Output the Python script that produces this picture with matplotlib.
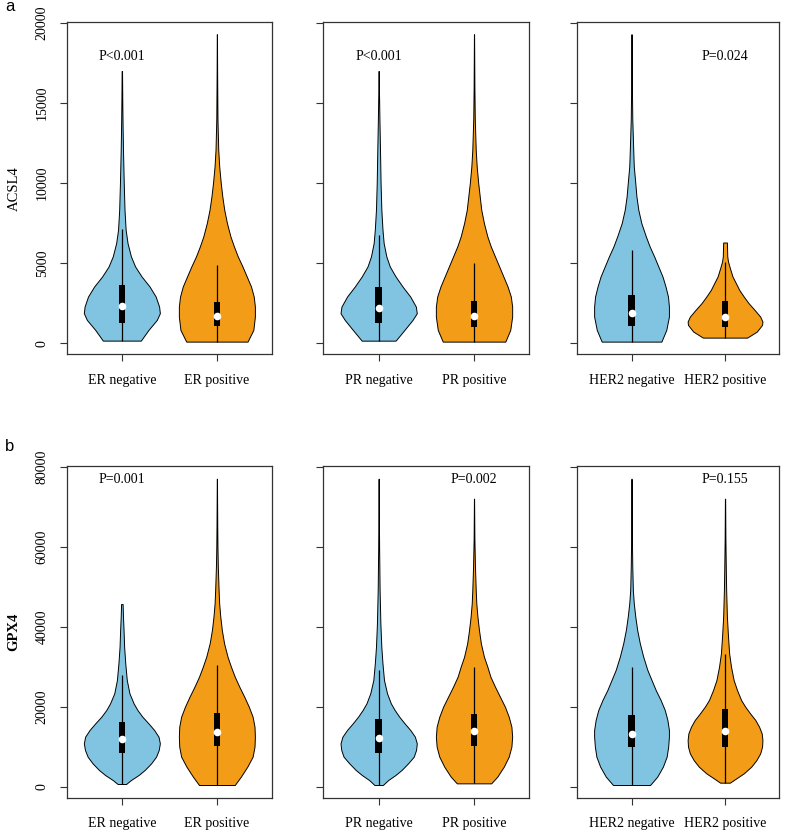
import matplotlib
matplotlib.use('Agg')
import matplotlib.pyplot as plt

SERIF = ['Liberation Serif', 'DejaVu Serif']
SANS = ['Liberation Sans', 'DejaVu Sans']
BLUE = '#80C4E2'
ORANGE = '#F39C18'
FRAME = '#333333'

# ---------------- row a : ACSL4 ----------------
acsl4_er_neg_y = [163, 831, 1456, 1875, 2290, 2915, 3540, 4165, 4790, 5415, 6250, 7080, 8330, 10000, 12080, 13500, 15000, 17000]
acsl4_er_neg_w = [0.50, 0.70, 0.92, 1.0, 0.98, 0.89, 0.73, 0.52, 0.35, 0.24, 0.15, 0.10, 0.07, 0.05, 0.03, 0.02, 0.012, 0.005]
acsl4_er_pos_y = [100, 831, 1665, 2290, 2915, 3540, 4165, 4790, 5415, 6040, 6665, 7500, 8330, 9165, 10000, 11040, 12080, 14000, 17000, 19300]
acsl4_er_pos_w = [0.79, 0.94, 0.98, 0.98, 0.95, 0.88, 0.77, 0.66, 0.54, 0.44, 0.35, 0.26, 0.19, 0.14, 0.10, 0.06, 0.035, 0.015, 0.006, 0.002]
acsl4_pr_neg_y = [160, 831, 1456, 1875, 2290, 2915, 3540, 4165, 4790, 5415, 6250, 7080, 8330, 10000, 12080, 14000, 15500, 17000]
acsl4_pr_neg_w = [0.44, 0.67, 0.88, 0.99, 0.965, 0.82, 0.62, 0.44, 0.29, 0.20, 0.13, 0.10, 0.07, 0.05, 0.035, 0.02, 0.01, 0.004]
acsl4_pr_pos_y = [100, 831, 1665, 2290, 2915, 3540, 4165, 4790, 5415, 6040, 6665, 7500, 8330, 9165, 10000, 11040, 12080, 14000, 16000, 19300]
acsl4_pr_pos_w = [0.82, 0.95, 1.0, 1.0, 0.965, 0.88, 0.77, 0.66, 0.55, 0.44, 0.35, 0.26, 0.19, 0.15, 0.11, 0.07, 0.045, 0.02, 0.01, 0.002]
acsl4_her2_neg_y = [100, 831, 1665, 2290, 2915, 3540, 4165, 4790, 5415, 6040, 6665, 7500, 8330, 9165, 10000, 11040, 12080, 14000, 16000, 19300]
acsl4_her2_neg_w = [0.79, 0.92, 0.99, 0.99, 0.965, 0.90, 0.82, 0.71, 0.60, 0.48, 0.38, 0.26, 0.18, 0.13, 0.10, 0.06, 0.045, 0.02, 0.01, 0.002]
acsl4_her2_pos_y = [350, 727, 1145, 1352, 1665, 2080, 2500, 2915, 3330, 3750, 4165, 4690, 5100, 5415, 5830, 6290]
acsl4_her2_pos_w = [0.59, 0.85, 0.99, 1.0, 0.94, 0.79, 0.63, 0.50, 0.38, 0.29, 0.20, 0.13, 0.08, 0.06, 0.055, 0.05]

acsl4_median = [2350, 1727, 2185, 1727, 1894, 1665]
acsl4_q1 = [1250, 1080, 1250, 1040, 1100, 1040]
acsl4_q3 = [3644, 2600, 3500, 2644, 3020, 2644]
acsl4_wlo = [163, 100, 160, 100, 100, 350]
acsl4_whi = [7144, 4894, 6770, 5040, 5800, 5100]

# ---------------- row b : GPX4 ----------------
gpx4_er_neg_y = [667, 1667, 2917, 4167, 5833, 7500, 9167, 10833, 12500, 14167, 15833, 17500, 19167, 20833, 23333, 26667, 30833, 35000, 39167, 42500, 45667]
gpx4_er_neg_w = [0.11, 0.24, 0.44, 0.60, 0.77, 0.90, 0.97, 1.0, 0.965, 0.85, 0.70, 0.54, 0.41, 0.31, 0.20, 0.13, 0.09, 0.06, 0.045, 0.03, 0.02]
gpx4_er_pos_y = [417, 2500, 5000, 7500, 10000, 12500, 15000, 17500, 20000, 22500, 25000, 27500, 30000, 32500, 35833, 39167, 42500, 45833, 49167, 55000, 60000, 65000, 77000]
gpx4_er_pos_w = [0.47, 0.63, 0.80, 0.94, 0.99, 1.0, 0.99, 0.94, 0.84, 0.72, 0.59, 0.47, 0.37, 0.28, 0.19, 0.13, 0.09, 0.06, 0.045, 0.025, 0.015, 0.01, 0.002]
gpx4_pr_neg_y = [417, 1667, 2917, 4167, 5833, 7500, 9167, 10833, 12500, 14167, 15833, 17500, 19167, 20833, 23333, 26667, 30833, 35000, 40833, 49167, 60000, 70000, 77000]
gpx4_pr_neg_w = [0.11, 0.25, 0.44, 0.60, 0.77, 0.92, 0.98, 1.0, 0.95, 0.83, 0.68, 0.54, 0.42, 0.32, 0.22, 0.14, 0.10, 0.07, 0.045, 0.025, 0.012, 0.005, 0.002]
gpx4_pr_pos_y = [833, 2500, 5000, 7500, 10000, 12500, 15000, 17500, 20000, 22500, 25000, 27500, 30000, 32500, 35833, 39167, 42500, 45833, 49167, 55000, 62000, 72000]
gpx4_pr_pos_w = [0.45, 0.61, 0.78, 0.91, 0.98, 1.0, 0.98, 0.91, 0.81, 0.68, 0.55, 0.43, 0.35, 0.26, 0.18, 0.13, 0.09, 0.06, 0.045, 0.025, 0.01, 0.002]
gpx4_her2_neg_y = [417, 2500, 5000, 7500, 10000, 12500, 14167, 16667, 19167, 21667, 24167, 26667, 29167, 32500, 35833, 39167, 42500, 45833, 49167, 55000, 62000, 70000, 77000]
gpx4_her2_neg_w = [0.49, 0.68, 0.83, 0.93, 0.97, 0.99, 0.99, 0.95, 0.88, 0.77, 0.64, 0.53, 0.42, 0.31, 0.22, 0.15, 0.10, 0.06, 0.035, 0.02, 0.01, 0.005, 0.002]
gpx4_her2_pos_y = [1000, 2083, 3333, 5000, 6667, 8333, 10000, 11667, 13333, 15000, 16667, 18333, 20000, 21667, 24167, 26667, 30000, 33333, 37500, 42500, 49167, 55000, 62000, 72000]
gpx4_her2_pos_w = [0.13, 0.30, 0.50, 0.70, 0.84, 0.94, 0.99, 1.0, 0.98, 0.91, 0.81, 0.67, 0.54, 0.43, 0.32, 0.23, 0.16, 0.11, 0.08, 0.05, 0.03, 0.02, 0.01, 0.003]

gpx4_median = [11917, 13750, 12083, 13917, 13167, 13917]
gpx4_q1 = [8333, 10167, 8333, 10250, 9833, 10000]
gpx4_q3 = [16250, 18333, 16833, 18167, 17917, 19333]
gpx4_wlo = [667, 417, 417, 833, 417, 1000]
gpx4_whi = [27917, 30417, 29167, 29833, 29833, 33167]

# ---------------- labels ----------------
group_labels = [['ER negative', 'ER positive'],
                ['PR negative', 'PR positive'],
                ['HER2 negative', 'HER2 positive']]
acsl4_pvals = ['P<0.001', 'P<0.001', 'P=0.024']
acsl4_pval_pos = [1, 1, 2]
gpx4_pvals = ['P=0.001', 'P=0.002', 'P=0.155']
gpx4_pval_pos = [1, 2, 2]
acsl4_ticks = [0, 5000, 10000, 15000, 20000]
gpx4_ticks = [0, 20000, 40000, 60000, 80000]

rows = [
    dict(shapes=[(acsl4_er_neg_y, acsl4_er_neg_w), (acsl4_er_pos_y, acsl4_er_pos_w),
                 (acsl4_pr_neg_y, acsl4_pr_neg_w), (acsl4_pr_pos_y, acsl4_pr_pos_w),
                 (acsl4_her2_neg_y, acsl4_her2_neg_w), (acsl4_her2_pos_y, acsl4_her2_pos_w)],
         med=acsl4_median, q1=acsl4_q1, q3=acsl4_q3, wlo=acsl4_wlo, whi=acsl4_whi,
         pv=acsl4_pvals, pvx=acsl4_pval_pos, pvy=17900, ticks=acsl4_ticks,
         ylim=(-690, 20040), ylabel='ACSL4', ylw='normal', tag='a',
         bottom=0.5747),
    dict(shapes=[(gpx4_er_neg_y, gpx4_er_neg_w), (gpx4_er_pos_y, gpx4_er_pos_w),
                 (gpx4_pr_neg_y, gpx4_pr_neg_w), (gpx4_pr_pos_y, gpx4_pr_pos_w),
                 (gpx4_her2_neg_y, gpx4_her2_neg_w), (gpx4_her2_pos_y, gpx4_her2_pos_w)],
         med=gpx4_median, q1=gpx4_q1, q3=gpx4_q3, wlo=gpx4_wlo, whi=gpx4_whi,
         pv=gpx4_pvals, pvx=gpx4_pval_pos, pvy=76700, ticks=gpx4_ticks,
         ylim=(-2750, 80250), ylabel='GPX4', ylw='bold', tag='b',
         bottom=0.0424),
]

fig = plt.figure(figsize=(7.85, 8.33), dpi=100)
lefts = [0.0850, 0.4119, 0.7354]
widths = [0.2615, 0.2624, 0.2573]
height = 0.3985
positions = [1, 2]
colors = [BLUE, ORANGE]

for r, row in enumerate(rows):
    for p in range(3):
        ax = fig.add_axes([lefts[p], row['bottom'], widths[p], height])
        vp_stats = []
        for k in range(2):
            yy, ww = row['shapes'][2 * p + k]
            vp_stats.append(dict(coords=yy, vals=ww, mean=row['med'][2 * p + k],
                                 median=row['med'][2 * p + k], min=yy[0], max=yy[-1]))
        parts = ax.violin(vp_stats, positions=positions, widths=0.8,
                          showmeans=False, showextrema=False, showmedians=False)
        for body, c in zip(parts['bodies'], colors):
            body.set_facecolor(c)
            body.set_edgecolor('black')
            body.set_linewidth(0.7)
            body.set_alpha(1)
        sl = slice(2 * p, 2 * p + 2)
        ax.vlines(positions, row['wlo'][sl], row['whi'][sl], color='black', lw=0.9, zorder=3)
        q1 = row['q1'][sl]
        q3 = row['q3'][sl]
        ax.bar(positions, [b - a for a, b in zip(q1, q3)], bottom=q1, width=0.068,
               color='black', zorder=4)
        ax.scatter(positions, row['med'][sl], s=30, color='white', zorder=5, linewidths=0)

        ax.set_xlim(0.42, 2.58)
        ax.set_ylim(*row['ylim'])
        ax.set_xticks(positions)
        ax.set_xticklabels(group_labels[p], fontfamily=SERIF, fontsize=10)
        ax.set_yticks(row['ticks'])
        if p == 0:
            ax.set_yticklabels([str(t) for t in row['ticks']], fontfamily=SERIF, fontsize=10,
                               rotation=90, va='center')
        else:
            ax.set_yticklabels([])
        ax.tick_params(axis='both', direction='out', length=5, width=0.8, color=FRAME)
        ax.tick_params(axis='x', pad=9)
        ax.tick_params(axis='y', pad=8)
        for s in ax.spines.values():
            s.set_color(FRAME)
            s.set_linewidth(0.9)
        ax.text(row['pvx'][p], row['pvy'], row['pv'][p], ha='center', va='center',
                fontfamily=SERIF, fontsize=10)
        if p == 0:
            ax.set_ylabel(row['ylabel'], fontfamily=SERIF, fontsize=10.5,
                          fontweight=row['ylw'], labelpad=11)

fig.text(0.0127, 0.992, 'a', fontfamily=SANS, fontsize=12, ha='center', va='center')
fig.text(0.0127, 0.464, 'b', fontfamily=SANS, fontsize=12, ha='center', va='center')

fig.savefig('out.png', dpi=100)
